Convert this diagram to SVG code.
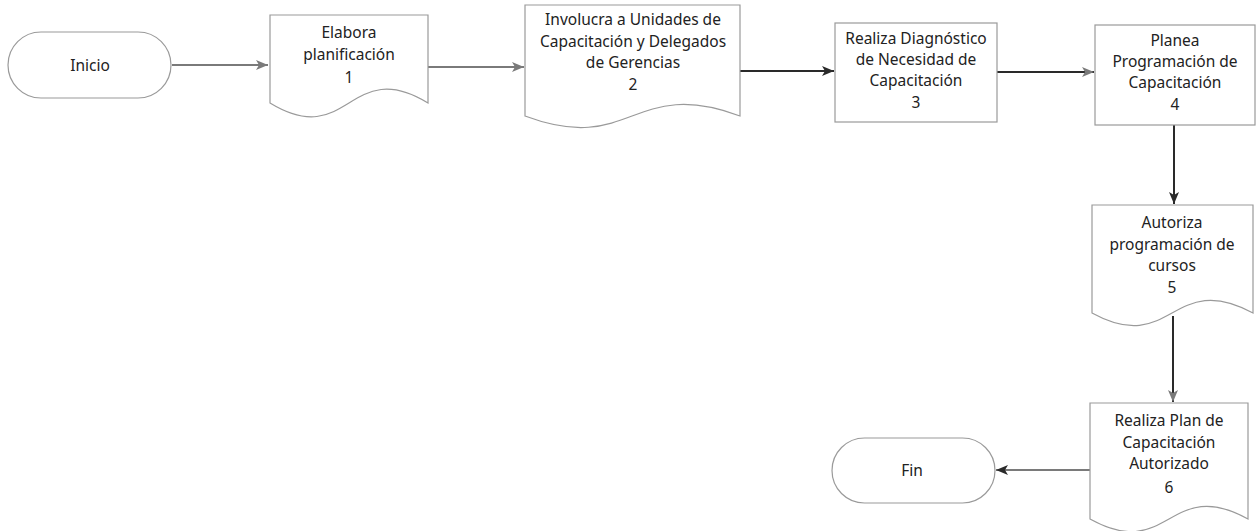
<svg xmlns="http://www.w3.org/2000/svg" width="1257" height="531" viewBox="0 0 1257 531">
<style>
.shape{fill:#fff;stroke:#9a9a9a;stroke-width:1.2}
.t{font-family:"Noto Sans","Open Sans",sans-serif;font-size:15.5px;fill:#222;text-anchor:middle;dominant-baseline:central}
.cg{stroke:#7a7a7a;stroke-width:2;fill:none}
.cd{stroke:#2a2a2a;stroke-width:2;fill:none}
</style>
<defs>
<marker id="ag" viewBox="0 0 12 10" refX="12" refY="5" markerWidth="12" markerHeight="10" markerUnits="userSpaceOnUse" orient="auto"><path d="M0,0 L12,5 L0,10 L3,5 Z" fill="#7a7a7a"/></marker>
<marker id="ad" viewBox="0 0 12 10" refX="12" refY="5" markerWidth="12" markerHeight="10" markerUnits="userSpaceOnUse" orient="auto"><path d="M0,0 L12,5 L0,10 L3,5 Z" fill="#2a2a2a"/></marker>
</defs>
<rect width="1257" height="531" fill="#fff"/>
<g id="connectors">
<path class="cg" d="M172,65 H268" marker-end="url(#ag)"/>
<path class="cg" d="M428,67 H524" marker-end="url(#ag)"/>
<path class="cd" d="M740,71 H834" marker-end="url(#ad)"/>
<path class="cd" d="M997,72 H1094" marker-end="url(#ag)"/>
<path class="cd" d="M1174,125 V204" marker-end="url(#ad)"/>
<path class="cd" d="M1173,316 V402" marker-end="url(#ag)"/>
<path class="cg" d="M1090,470 H996" marker-end="url(#ad)"/>
</g>
<g id="inicio">
<rect class="shape" x="8" y="32" width="163" height="66" rx="33"/>
<text class="t" x="90" y="65">Inicio</text>
</g>
<g id="n1">
<path class="shape" d="M270,15 H428 V103 C349,55 349,151 270,103 Z"/>
<text class="t" x="349" y="32">Elabora</text>
<text class="t" x="349" y="54">planificación</text>
<text class="t" x="349" y="77">1</text>
</g>
<g id="n2">
<path class="shape" d="M525,5 H740 V116 C632,76 632,156 525,116 Z"/>
<text class="t" x="633" y="19">Involucra a Unidades de</text>
<text class="t" x="633" y="41">Capacitación y Delegados</text>
<text class="t" x="633" y="62">de Gerencias</text>
<text class="t" x="633" y="84">2</text>
</g>
<g id="n3">
<rect class="shape" x="835" y="23" width="162" height="99"/>
<text class="t" x="916" y="38">Realiza Diagnóstico</text>
<text class="t" x="916" y="59">de Necesidad de</text>
<text class="t" x="916" y="80">Capacitación</text>
<text class="t" x="916" y="102">3</text>
</g>
<g id="n4">
<rect class="shape" x="1095" y="25" width="160" height="100"/>
<text class="t" x="1175" y="40">Planea</text>
<text class="t" x="1175" y="61">Programación de</text>
<text class="t" x="1175" y="82">Capacitación</text>
<text class="t" x="1175" y="104">4</text>
</g>
<g id="n5">
<path class="shape" d="M1092,205 H1253 V313 C1172,269 1172,357 1092,313 Z"/>
<text class="t" x="1172" y="222">Autoriza</text>
<text class="t" x="1172" y="244">programación de</text>
<text class="t" x="1172" y="265">cursos</text>
<text class="t" x="1172" y="287">5</text>
</g>
<g id="n6">
<path class="shape" d="M1090,403 H1248 V519 C1169,475 1169,563 1090,519 Z"/>
<text class="t" x="1169" y="420">Realiza Plan de</text>
<text class="t" x="1169" y="442">Capacitación</text>
<text class="t" x="1169" y="463">Autorizado</text>
<text class="t" x="1169" y="487">6</text>
</g>
<g id="fin">
<rect class="shape" x="832" y="438" width="163" height="65" rx="32.5"/>
<text class="t" x="912" y="470">Fin</text>
</g>
</svg>
